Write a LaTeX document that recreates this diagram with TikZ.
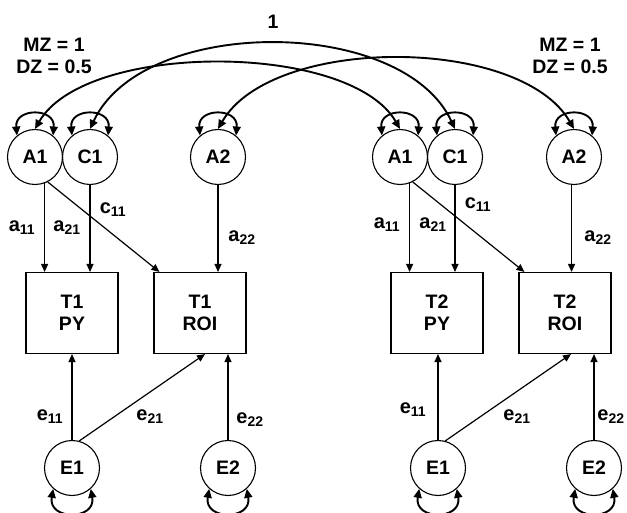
\documentclass[tikz,border=0pt]{standalone}
\usepackage{fontspec}
\setmainfont{Liberation Sans}
\usetikzlibrary{arrows.meta}

\begin{document}
\begin{tikzpicture}[x=1pt,y=1pt,
    latent/.style={circle,draw,line width=1.1pt,minimum size=55pt,inner sep=0pt,font=\fontsize{19.5}{19.5}\selectfont\bfseries},
    observed/.style={rectangle,draw,line width=1.1pt,minimum width=92pt,minimum height=81pt,align=center,font=\fontsize{19.5}{22}\selectfont\bfseries},
    regarrow/.style={-{Triangle[length=8pt,width=7pt]},line width=1.2pt},
    covar/.style={{Triangle[length=9pt,width=8pt]}-{Triangle[length=9pt,width=8pt]},line width=1.9pt},
    coef/.style={font=\fontsize{20}{20}\selectfont\bfseries},
    twinlab/.style={align=center,font=\fontsize{19.5}{22}\selectfont\bfseries}]
    \useasboundingbox (0,0) rectangle (627,-513);

    % twin 1 and twin 2 factors
    \node[latent] (A1a) at (35,-157) {A1};
    \node[latent] (C1a) at (90,-157) {C1};
    \node[latent] (A2a) at (218,-157) {A2};
    \node[latent] (A1b) at (400,-157) {A1};
    \node[latent] (C1b) at (455,-157) {C1};
    \node[latent] (A2b) at (574,-157) {A2};

    \node[observed] (PY1) at (72,-313) {T1\\PY};
    \node[observed] (ROI1) at (200,-313) {T1\\ROI};
    \node[observed] (PY2) at (437,-313) {T2\\PY};
    \node[observed] (ROI2) at (565,-313) {T2\\ROI};

    \node[latent] (E1a) at (72,-468) {E1};
    \node[latent] (E2a) at (228,-468) {E2};
    \node[latent] (E1b) at (438,-468) {E1};
    \node[latent] (E2b) at (594,-468) {E2};

    % paths
    \draw[regarrow] (A1a.290) -- (A1a.290 |- PY1.north);
    \draw[regarrow] (C1a.south) -- (C1a.south |- PY1.north);
    \draw[regarrow] (A1a.297) -- ([xshift=6pt]ROI1.north west);
    \draw[regarrow] (A2a.south) -- (A2a.south |- ROI1.north);
    \draw[regarrow] (E1a.north) -- (E1a.north |- PY1.south);
    \draw[regarrow] (E1a.75) -- ([xshift=5pt]ROI1.south);
    \draw[regarrow] (E2a.north) -- (E2a.north |- ROI1.south);

    \draw[regarrow] (A1b.290) -- (A1b.290 |- PY2.north);
    \draw[regarrow] (C1b.south) -- (C1b.south |- PY2.north);
    \draw[regarrow] (A1b.297) -- ([xshift=6pt]ROI2.north west);
    \draw[regarrow] (A2b.265) -- (A2b.265 |- ROI2.north);
    \draw[regarrow] (E1b.north) -- (E1b.north |- PY2.south);
    \draw[regarrow] (E1b.75) -- ([xshift=6pt]ROI2.south);
    \draw[regarrow] (E2b.north) -- (E2b.north |- ROI2.south);

    % variances
    \foreach \f in {A1a,C1a,A2a,A1b,C1b,A2b}
      \draw[covar] (\f.130) to[out=95,in=85,looseness=2] (\f.50);
    \foreach \f in {E1a,E2a,E1b,E2b}
      \draw[covar] (\f.228) to[out=260,in=280,looseness=2.2] (\f.312);

    % twin covariances
    \draw[covar] (A1a.north) .. controls +(60:101) and +(120:101) .. (A1b.north);
    \draw[covar] (C1a.north) .. controls +(65:125) and +(115:125) .. (C1b.north);
    \draw[covar] (A2a.north) .. controls +(60:108) and +(120:108) .. (A2b.north);

    \node[twinlab] (mzdza) at (54,-56) {MZ = 1\\DZ = 0.5};
    \node[twinlab] (mzdzb) at (570,-56) {MZ = 1\\DZ = 0.5};
    \node[twinlab] (cone) at (273,-22) {1};

    % coefficients
    \node[coef] (a11a) at (22,-228) {a\textsubscript{11}};
    \node[coef] (a21a) at (67,-228) {a\textsubscript{21}};
    \node[coef] (c11a) at (113,-210) {c\textsubscript{11}};
    \node[coef] (a22a) at (242,-238) {a\textsubscript{22}};
    \node[coef] (a11b) at (387,-225) {a\textsubscript{11}};
    \node[coef] (a21b) at (433,-225) {a\textsubscript{21}};
    \node[coef] (c11b) at (478,-205) {c\textsubscript{11}};
    \node[coef] (a22b) at (598,-238) {a\textsubscript{22}};
    \node[coef] (e11a) at (50,-417) {e\textsubscript{11}};
    \node[coef] (e21a) at (150,-417) {e\textsubscript{21}};
    \node[coef] (e22a) at (250,-420) {e\textsubscript{22}};
    \node[coef] (e11b) at (413,-410) {e\textsubscript{11}};
    \node[coef] (e21b) at (517,-417) {e\textsubscript{21}};
    \node[coef] (e22b) at (611,-417) {e\textsubscript{22}};
  \end{tikzpicture}
\end{document}
